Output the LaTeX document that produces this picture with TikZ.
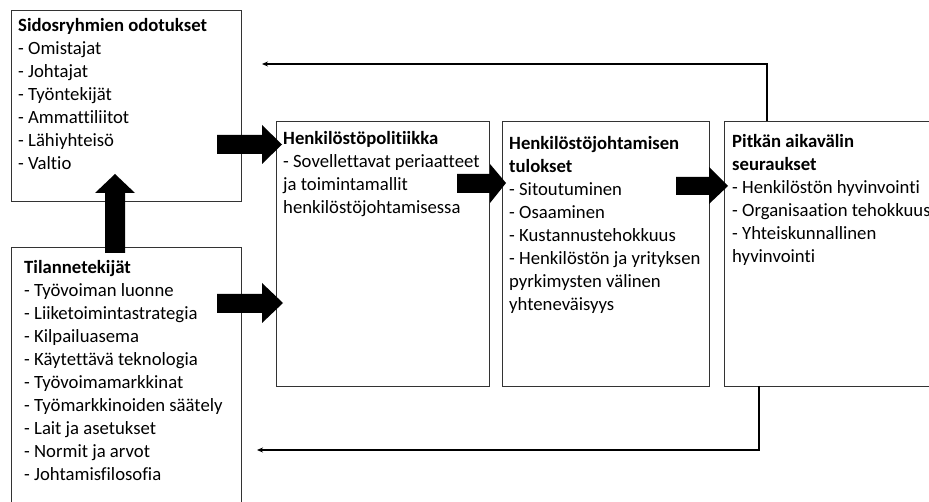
\documentclass[tikz,border=0pt]{standalone}
\usepackage{fontspec}
\setmainfont[Ligatures=NoCommon]{Carlito}
\usetikzlibrary{arrows.meta}
\begin{document}
\begin{tikzpicture}[x=1pt,y=-1pt,
  box/.style={draw=black!80, line width=0.9pt},
  txt/.style={anchor=base west, inner sep=0pt,
              font=\fontsize{18.7}{23}\selectfont},
  fat/.style={fill=black, draw=none},
  feedback/.style={draw=black, line width=1.1pt, -{Stealth[length=6pt,width=5pt]}}]
\useasboundingbox (0,0) rectangle (929,502);
\clip (0,0) rectangle (929,502);

% boxes
\draw[box] (11,10) rectangle (241,201);
\draw[box] (11,247) rectangle (241,520);
\draw[box] (276,121) rectangle (489,386);
\draw[box] (502,121) rectangle (709,386);
\draw[box] (724,121) rectangle (960,386);

% ends of the feedback loops
\coordinate (b5top) at (767,121);
\coordinate (b5bot) at (759,386);
\coordinate (fbtop) at (262,64);
\coordinate (fbbot) at (257,450);

% texts (first baseline at the given point)
\node[txt] (t1) at (18,32) {\begin{tabular}[t]{@{}l@{}}\textbf{Sidosryhmien odotukset}\\- Omistajat\\- Johtajat\\- Työntekijät\\- Ammattiliitot\\- Lähiyhteisö\\- Valtio\end{tabular}};
\node[txt] (t2) at (24,274) {\begin{tabular}[t]{@{}l@{}}\textbf{Tilannetekijät}\\- Työvoiman luonne\\- Liiketoimintastrategia\\- Kilpailuasema\\- Käytettävä teknologia\\- Työvoimamarkkinat\\- Työmarkkinoiden säätely\\- Lait ja asetukset\\- Normit ja arvot\\- Johtamisfilosofia\end{tabular}};
\node[txt] (t3) at (283,145) {\begin{tabular}[t]{@{}l@{}}\textbf{Henkilöstöpolitiikka}\\- Sovellettavat periaatteet\\ja toimintamallit\\henkilöstöjohtamisessa\end{tabular}};
\node[txt] (t4) at (509,150) {\begin{tabular}[t]{@{}l@{}}\textbf{Henkilöstöjohtamisen}\\\textbf{tulokset}\\- Sitoutuminen\\- Osaaminen\\- Kustannustehokkuus\\- Henkilöstön ja yrityksen\\pyrkimysten välinen\\yhteneväisyys\end{tabular}};
\node[txt] (t5) at (732,148) {\begin{tabular}[t]{@{}l@{}}\textbf{Pitkän aikavälin}\\\textbf{seuraukset}\\- Henkilöstön hyvinvointi\\- Organisaation tehokkuus\\- Yhteiskunnallinen\\hyvinvointi\end{tabular}};

% broad block arrows
\fill[fat] (217,135) -- (262,135) -- (262,125) -- (282,144.5) -- (262,164) -- (262,154) -- (217,154) -- cycle;
\fill[fat] (217,294) -- (262,294) -- (262,283) -- (283,303) -- (262,323) -- (262,313) -- (217,313) -- cycle;
\fill[fat] (457,174) -- (490,174) -- (490,164) -- (506,183) -- (490,203) -- (490,193) -- (457,193) -- cycle;
\fill[fat] (676,177) -- (709,177) -- (709,167) -- (728,186) -- (709,204) -- (709,195) -- (676,195) -- cycle;
\fill[fat] (105,253) -- (105,193) -- (95,193) -- (115,174) -- (135,193) -- (125,193) -- (125,253) -- cycle;

% feedback loops
\draw[feedback] (b5top) |- (fbtop);
\draw[feedback] (b5bot) |- (fbbot);
\end{tikzpicture}
\end{document}
